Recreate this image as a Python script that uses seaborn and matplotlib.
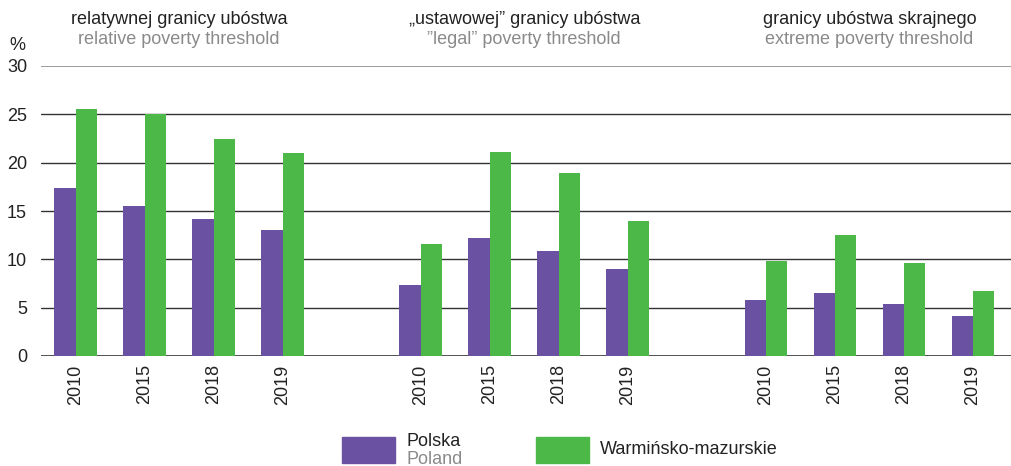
import numpy as np
import pandas as pd
import seaborn as sns
from matplotlib import pyplot as plt
from matplotlib.patches import Rectangle

years = ['2010', '2015', '2018', '2019']
groups = ['relative', 'legal', 'extreme']
titles_pl = ['relatywnej granicy ubóstwa', '\u201eustawowej\u201d granicy ubóstwa', 'granicy ubóstwa skrajnego']
titles_en = ['relative poverty threshold', '\u201dlegal\u201d poverty threshold', 'extreme poverty threshold']

polska = [17.4, 15.5, 14.2, 13.0,
          7.3, 12.2, 10.9, 9.0,
          5.8, 6.5, 5.4, 4.1]
warminsko = [25.6, 25.0, 22.4, 21.0,
             11.6, 21.1, 18.9, 14.0,
             9.8, 12.5, 9.6, 6.7]

series = ['Polska', 'Warmińsko-mazurskie']
colors = ['#6B51A1', '#4CB848']

# build long table, with one empty slot between groups
keys = [f'{g}_{y}' for g in groups for y in years]
df = pd.DataFrame({
    'key': keys * 2,
    'value': polska + warminsko,
    'series': [series[0]] * len(keys) + [series[1]] * len(keys),
})
order = []
for i, g in enumerate(groups):
    order += [f'{g}_{y}' for y in years]
    if i < len(groups) - 1:
        order.append(f'gap{i}')

sns.set_style('white')
plt.rcParams['font.family'] = ['Liberation Sans', 'DejaVu Sans']

fig = plt.figure(figsize=(10.11, 4.66), dpi=100)
ax = fig.add_axes([41 / 1011, 110 / 466, 970 / 1011, 290 / 466])

sns.barplot(data=df, x='key', y='value', hue='series', order=order,
            hue_order=series, palette=colors, width=0.62, saturation=1,
            linewidth=0, ax=ax, legend=False)

ax.set_ylim(0, 30)
ax.set_xlim(-0.5, len(order) - 0.45)
ax.set_yticks(range(0, 31, 5))
ax.set_yticklabels([str(v) for v in range(0, 31, 5)], fontsize=13, color='#222222')
for v in range(0, 31, 5):
    ax.axhline(v, color='#8a8a8a' if v == 30 else '#333333', lw=1.2 if v in (0, 30) else 1.0, zorder=0)
ax.set_axisbelow(True)
ax.tick_params(axis='y', length=0, pad=10)
ax.tick_params(axis='x', length=0, pad=6)
ax.set_xticks(range(len(order)))
ax.set_xticklabels(['' if k.startswith('gap') else k.split('_')[1] for k in order],
                   rotation=90, fontsize=13, color='#222222')
ax.set_xlabel('')
ax.set_ylabel('')
for s in ax.spines.values():
    s.set_visible(False)

fig.text(9 / 1011, (466 - 46) / 466, '%', fontsize=13, ha='left', va='center', color='#222222')

# group headers
for i in range(len(groups)):
    cx = i * 5 + 1.5
    ax.text(cx, 34.8, titles_pl[i], ha='center', va='center', fontsize=13, color='#222222')
    ax.text(cx, 32.75, titles_en[i], ha='center', va='center', fontsize=13, color='#8a8a8a')

# legend
fig.add_artist(Rectangle((342 / 1011, 3 / 466), 53 / 1011, 26 / 466, color=colors[0], transform=fig.transFigure))
fig.text(407 / 1011, (466 - 441) / 466, 'Polska', fontsize=13, va='center', color='#222222')
fig.text(407 / 1011, (466 - 459) / 466, 'Poland', fontsize=13, va='center', color='#8a8a8a')
fig.add_artist(Rectangle((536 / 1011, 3 / 466), 53 / 1011, 26 / 466, color=colors[1], transform=fig.transFigure))
fig.text(600 / 1011, (466 - 449) / 466, 'Warmińsko-mazurskie', fontsize=13, va='center', color='#222222')

plt.savefig('out.png', dpi=100)
plt.close()
